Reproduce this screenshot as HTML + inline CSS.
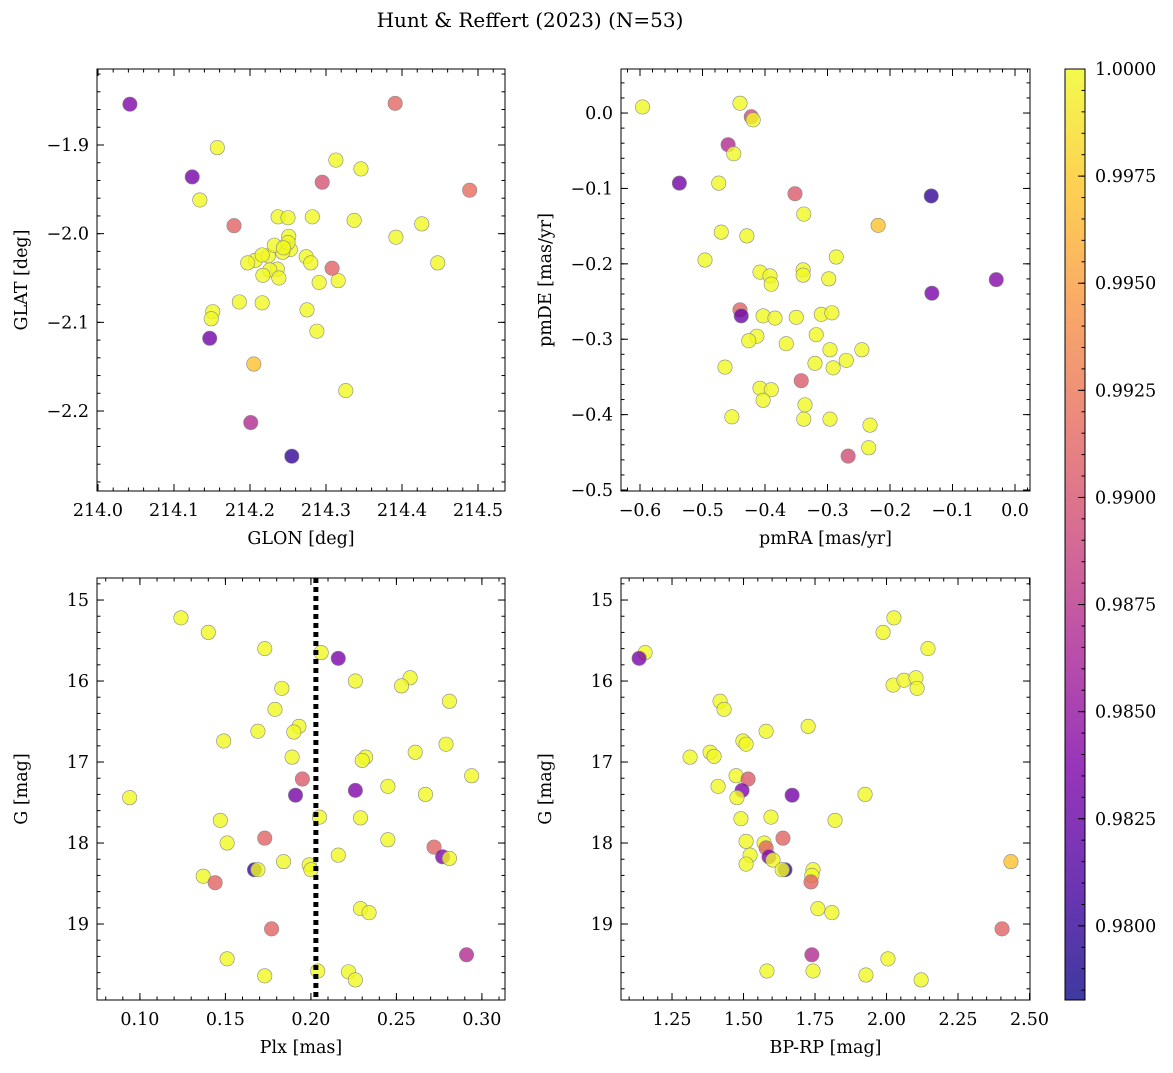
<!DOCTYPE html>
<html><head><meta charset="utf-8">
<style>
body{margin:0;background:#fff;}
svg text{font-family:"DejaVu Serif","Liberation Serif",serif;fill:#000;}
</style></head>
<body>
<svg id="fig" width="1173" height="1068" xmlns="http://www.w3.org/2000/svg">
<defs>
<linearGradient id="plasmaGrad" x1="0" y1="1" x2="0" y2="0">
<stop offset="0" stop-color="#0d0887"/><stop offset="0.125" stop-color="#4903a0"/><stop offset="0.25" stop-color="#7e03a8"/><stop offset="0.375" stop-color="#a92395"/><stop offset="0.5" stop-color="#cc4778"/><stop offset="0.625" stop-color="#e66c5c"/><stop offset="0.75" stop-color="#f89540"/><stop offset="0.875" stop-color="#fdc527"/><stop offset="1" stop-color="#f0f921"/>
</linearGradient>
</defs>
<text x="530" y="27" font-size="20" text-anchor="middle">Hunt &amp; Reffert (2023) (N=53)</text>
</svg>
<script>
// Panel 1: GLON / GLAT
const p1x=[214.042,214.391,214.157,214.124,214.134,214.313,214.346,214.295,214.489,214.179,214.237,214.250,214.282,214.337,214.392,214.426,214.251,214.247,214.207,214.224,214.236,214.253,214.226,214.216,214.197,214.217,214.243,214.232,214.274,214.280,214.291,214.316,214.238,214.447,214.308,214.151,214.149,214.186,214.216,214.275,214.288,214.326,214.147,214.205,214.201,214.255,214.250,214.244];
const p1y=[-1.854,-1.853,-1.903,-1.936,-1.962,-1.917,-1.927,-1.942,-1.951,-1.991,-1.981,-1.982,-1.981,-1.985,-2.004,-1.989,-2.003,-2.014,-2.030,-2.025,-2.040,-2.018,-2.041,-2.024,-2.033,-2.047,-2.021,-2.013,-2.026,-2.033,-2.055,-2.053,-2.050,-2.033,-2.039,-2.088,-2.096,-2.077,-2.078,-2.086,-2.110,-2.177,-2.118,-2.147,-2.213,-2.251,-2.010,-2.016];
const p1c=[0.9838,0.9915,1,0.9832,1,1,1,0.9900,0.9918,0.9912,1,1,1,1,1,1,1,1,1,1,1,1,1,1,1,1,1,1,1,1,1,1,1,1,0.9912,1,1,1,1,1,1,1,0.9830,0.9970,0.9870,0.9800,1,1];
// Panel 2: pmRA / pmDE
const p2x=[-0.596,-0.440,-0.422,-0.419,-0.459,-0.450,-0.537,-0.474,-0.352,-0.134,-0.338,-0.219,-0.470,-0.429,-0.496,-0.286,-0.339,-0.339,-0.298,-0.408,-0.392,-0.390,-0.133,-0.030,-0.440,-0.438,-0.403,-0.384,-0.350,-0.310,-0.293,-0.318,-0.413,-0.426,-0.366,-0.296,-0.245,-0.464,-0.320,-0.270,-0.291,-0.342,-0.408,-0.390,-0.403,-0.336,-0.338,-0.296,-0.453,-0.232,-0.234,-0.267];
const p2y=[0.008,0.013,-0.005,-0.009,-0.042,-0.054,-0.093,-0.093,-0.107,-0.110,-0.134,-0.149,-0.158,-0.163,-0.195,-0.191,-0.208,-0.215,-0.220,-0.211,-0.216,-0.227,-0.239,-0.221,-0.261,-0.269,-0.269,-0.272,-0.271,-0.267,-0.265,-0.294,-0.296,-0.302,-0.306,-0.314,-0.314,-0.337,-0.332,-0.328,-0.338,-0.355,-0.365,-0.367,-0.381,-0.387,-0.406,-0.406,-0.403,-0.414,-0.444,-0.455];
const p2c=[1,1,0.9895,1,0.9870,1,0.9832,1,0.9905,0.9800,1,0.9970,1,1,1,1,1,1,1,1,1,1,0.9835,0.9840,0.9912,0.9828,1,1,1,1,1,1,1,1,1,1,1,1,1,1,1,0.9905,1,1,1,1,1,1,1,1,1,0.9895];
// Panel 3: Plx / G
const p3x=[0.124,0.140,0.173,0.206,0.216,0.183,0.226,0.258,0.253,0.281,0.179,0.193,0.190,0.169,0.149,0.279,0.261,0.232,0.230,0.189,0.294,0.195,0.094,0.267,0.245,0.226,0.191,0.147,0.205,0.229,0.173,0.245,0.151,0.272,0.167,0.169,0.199,0.200,0.184,0.216,0.277,0.281,0.137,0.144,0.229,0.234,0.177,0.291,0.151,0.173,0.204,0.222,0.226];
const p3y=[15.22,15.40,15.60,15.65,15.72,16.09,16.00,15.96,16.06,16.25,16.35,16.56,16.63,16.62,16.74,16.78,16.88,16.94,16.98,16.94,17.17,17.21,17.44,17.40,17.30,17.35,17.41,17.72,17.68,17.69,17.94,17.96,18.00,18.05,18.33,18.33,18.27,18.33,18.23,18.15,18.17,18.19,18.41,18.49,18.81,18.86,19.06,19.38,19.43,19.64,19.58,19.59,19.69];
const p3c=[1,1,1,1,0.9835,1,1,1,1,1,1,1,1,1,1,1,1,1,1,1,1,0.9905,1,1,1,0.9838,0.9832,1,1,1,0.9912,1,1,0.9912,0.9800,1,1,1,1,1,0.9838,1,1,0.9912,1,1,0.9912,0.9870,1,1,1,1,1];
// Panel 4: BP-RP / G
const p4x=[1.156,1.135,2.026,1.988,2.145,2.023,2.061,2.103,2.107,1.418,1.432,1.726,1.579,1.498,1.509,1.383,1.397,1.313,1.474,1.516,1.495,1.411,1.477,1.670,1.925,1.491,1.596,1.820,1.638,1.509,1.572,1.579,1.523,1.589,1.603,1.509,1.645,1.635,1.743,1.739,1.736,2.435,1.760,1.809,2.404,1.739,2.005,1.582,1.743,1.928,2.121];
const p4y=[15.65,15.72,15.22,15.40,15.60,16.05,15.99,15.96,16.09,16.25,16.35,16.56,16.62,16.74,16.78,16.88,16.93,16.94,17.17,17.21,17.35,17.30,17.44,17.41,17.40,17.70,17.68,17.72,17.94,17.98,18.00,18.06,18.15,18.17,18.21,18.26,18.33,18.33,18.33,18.40,18.48,18.23,18.81,18.86,19.06,19.38,19.43,19.58,19.58,19.63,19.69];
const p4c=[1,0.9835,1,1,1,1,1,1,1,1,1,1,1,1,1,1,1,1,1,0.9905,0.9838,1,1,0.9832,1,1,1,1,0.9912,1,1,0.9912,1,0.9838,1,1,0.9800,1,1,1,0.9912,0.9970,1,1,0.9912,0.9870,1,1,1,1,1];
const p1xt=["214.0","214.1","214.2","214.3","214.4","214.5"];
const p1yt=["−1.9","−2.0","−2.1","−2.2"];
const p2xt=["−0.6","−0.5","−0.4","−0.3","−0.2","−0.1","0.0"];
const p2yt=["0.0","−0.1","−0.2","−0.3","−0.4","−0.5"];
const p3xt=["0.10","0.15","0.20","0.25","0.30"];
const gt=["15","16","17","18","19"];
const p4xt=["1.25","1.50","1.75","2.00","2.25","2.50"];
const cbt=["1.0000","0.9975","0.9950","0.9925","0.9900","0.9875","0.9850","0.9825","0.9800"];
const plxCut=[0.2029];

const NS="http://www.w3.org/2000/svg";
const svg=document.getElementById('fig');
const vmin=0.97827,vmax=1.0;
const FS=17.5;
const stops=["#0d0887","#4903a0","#7e03a8","#a92395","#cc4778","#e66c5c","#f89540","#fdc527","#f0f921"];
function hex(h){return [1,3,5].map(i=>parseInt(h.substr(i,2),16));}
function cmap(v){let t=Math.max(0,Math.min(1,(v-vmin)/(vmax-vmin)))*8;let i=Math.min(7,Math.floor(t));let f=t-i;let a=hex(stops[i]),b=hex(stops[i+1]);return 'rgb('+a.map((x,k)=>Math.round(x+(b[k]-x)*f)).join(',')+')';}
function mk(tag,attrs,parent){const e=document.createElementNS(NS,tag);for(const k in attrs)e.setAttribute(k,attrs[k]);(parent||svg).appendChild(e);return e;}

function panel(name,box,xd,yd,xs,ys,xt,yt,xmin,ymin,xl,yl,inv,cs){
  const g=mk('g',{});
  
  
  const [L,T,R,B]=box;
  const X=v=>L+(v-xd[0])/(xd[1]-xd[0])*(R-L);
  const Y=v=>inv? T+(v-yd[0])/(yd[1]-yd[0])*(B-T) : B-(v-yd[0])/(yd[1]-yd[0])*(B-T);
  function ticks(start,step,n,len,isX,labels){
    for(let i=0;i<n;i++){const v=start+i*step;
      if(isX){const x=X(v);if(x<L-0.5||x>R+0.5)continue;
        mk('line',{x1:x,y1:B,x2:x,y2:B-len,stroke:'#000','stroke-width':1},g);
        mk('line',{x1:x,y1:T,x2:x,y2:T+len,stroke:'#000','stroke-width':1},g);
        if(labels){const t=mk('text',{x:x,y:B+25,'font-size':FS,'text-anchor':'middle'},g);t.textContent=labels[i];}
      }else{const y=Y(v);if(y<T-0.5||y>B+0.5)continue;
        mk('line',{x1:L,y1:y,x2:L+len,y2:y,stroke:'#000','stroke-width':1},g);
        mk('line',{x1:R,y1:y,x2:R-len,y2:y,stroke:'#000','stroke-width':1},g);
        if(labels){const t=mk('text',{x:L-8,y:y+6,'font-size':FS,'text-anchor':'end'},g);t.textContent=labels[i];}
      }}
  }
  ticks(xt[0],xt[1],xt[2].length,7,true,xt[2]);
  ticks(xmin[0],xmin[1],xmin[2],3.5,true,null);
  ticks(yt[0],yt[1],yt[2].length,7,false,yt[2]);
  ticks(ymin[0],ymin[1],ymin[2],3.5,false,null);
  for(let i=0;i<xs.length;i++){
    const c=mk('circle',{cx:X(xs[i]),cy:Y(ys[i]),r:7.2,fill:cmap(cs[i]),'fill-opacity':0.8,stroke:'#888','stroke-width':0.6},g);
    
    
  }
  const fr=mk('rect',{x:L,y:T,width:R-L,height:B-T,fill:'none',stroke:'#000','stroke-width':1},g);
  
  
  const xlab=mk('text',{x:(L+R)/2,y:B+53,'font-size':FS,'text-anchor':'middle'},g);xlab.textContent=xl;
  
  
  const ylab=mk('text',{x:0,y:0,'font-size':FS,'text-anchor':'middle',transform:'translate('+(L-70)+','+((T+B)/2)+') rotate(-90)'},g);ylab.textContent=yl;
  
  
  return {X,Y,g};
}
const P1=panel('panel-glon-glat',[97,69,505,491],[213.9987,214.5355],[-2.2902,-1.8143],p1x,p1y,[214.0,0.1,p1xt],[-1.9,-0.1,p1yt],[214.0,0.02,30],[-1.8,-0.02,30],'GLON [deg]','GLAT [deg]',false,p1c);
const P2=panel('panel-proper-motion',[621,69,1030,491],[-0.6304,0.024],[-0.5013,0.0584],p2x,p2y,[-0.6,0.1,p2xt],[0.0,-0.1,p2yt],[-0.64,0.02,36],[0.06,-0.02,30],'pmRA [mas/yr]','pmDE [mas/yr]',false,p2c);
const P3=panel('panel-plx-g',[97,578,505,1000],[0.0749,0.3135],[14.728,19.938],p3x,p3y,[0.10,0.05,p3xt],[15,1,gt],[0.07,0.01,26],[14.8,0.2,27],'Plx [mas]','G [mag]',true,p3c);
const P4=panel('panel-cmd',[621,578,1030,1000],[1.0716,2.5017],[14.728,19.938],p4x,p4y,[1.25,0.25,p4xt],[15,1,gt],[1.10,0.05,30],[14.8,0.2,27],'BP-RP [mag]','G [mag]',true,p4c);
const dl=mk('line',{x1:P3.X(plxCut[0]),y1:578,x2:P3.X(plxCut[0]),y2:1000,stroke:'#000','stroke-width':5,'stroke-dasharray':'5,4'},P3.g);


const cb=mk('g',{});


mk('rect',{x:1065,y:69,width:20,height:931,fill:'url(#plasmaGrad)','fill-opacity':0.8},cb);
mk('rect',{x:1065,y:69,width:20,height:931,fill:'none',stroke:'#000','stroke-width':1},cb);
const CY=v=>1000-(v-vmin)/(vmax-vmin)*931;
for(let i=0;i<cbt.length;i++){const v=1-i*0.0025,y=CY(v);
  mk('line',{x1:1085,y1:y,x2:1078,y2:y,stroke:'#000'},cb);
  const t=mk('text',{x:1095,y:y+6,'font-size':FS},cb);t.textContent=cbt[i];
  
  
}
for(let v=0.9785;v<1.00001;v+=0.0005){mk('line',{x1:1085,y1:CY(v),x2:1081.5,y2:CY(v),stroke:'#000'},cb);}
</script>
</body></html>
